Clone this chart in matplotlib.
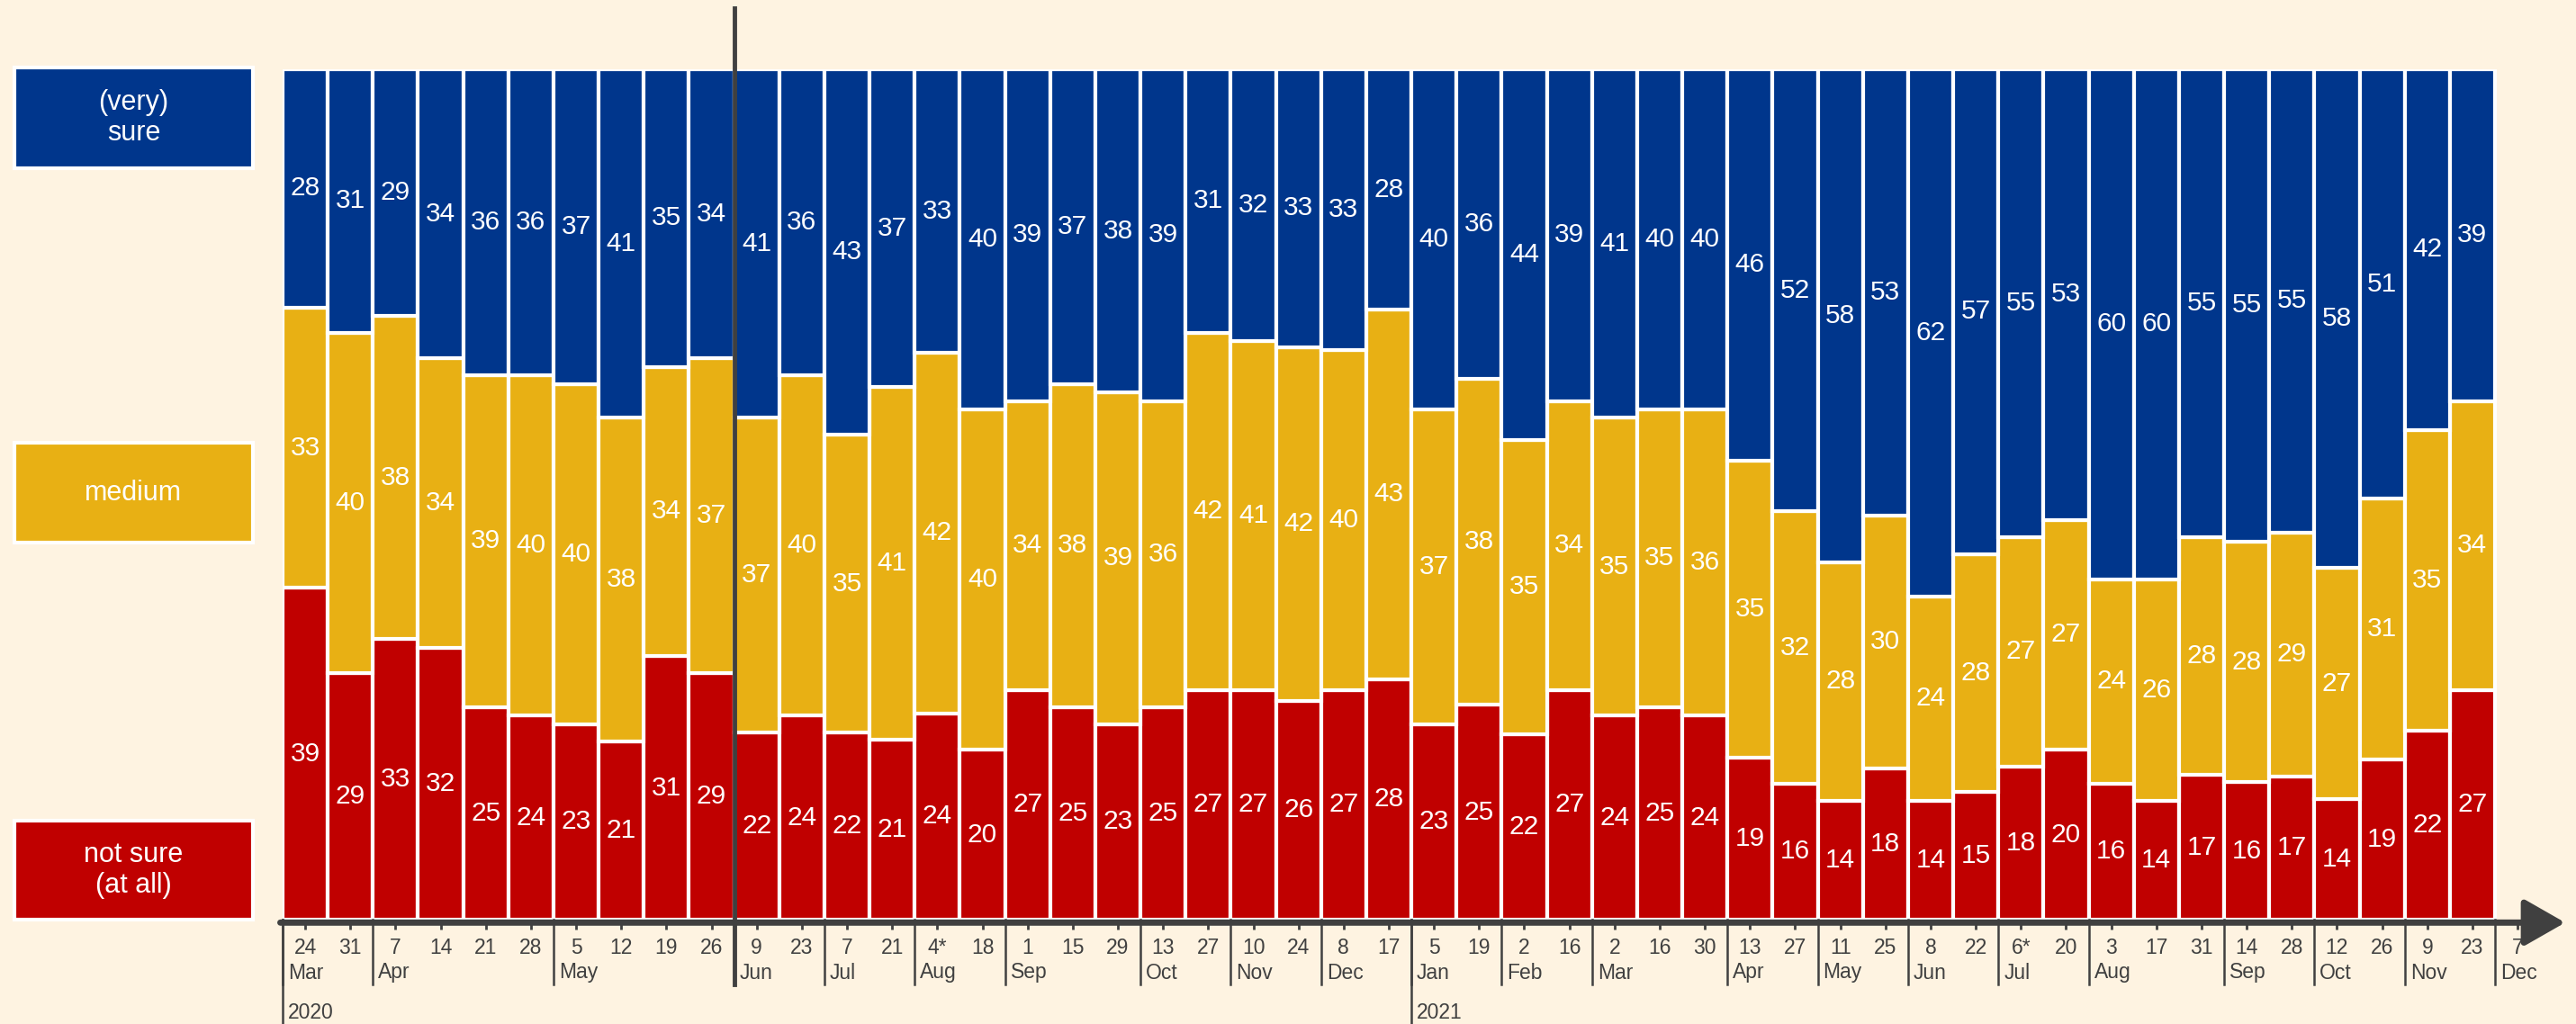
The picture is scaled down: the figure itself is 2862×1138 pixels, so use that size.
import matplotlib
matplotlib.use("Agg")
import matplotlib.pyplot as plt
import matplotlib.transforms as mtransforms
from matplotlib.patches import Rectangle

plt.rcParams['font.family'] = ['Liberation Sans', 'DejaVu Sans']

#%% data
days = ['24', '31', '7', '14', '21', '28', '5', '12', '19', '26',
        '9', '23', '7', '21', '4*', '18', '1', '15', '29', '13', '27',
        '10', '24', '8', '17',
        '5', '19', '2', '16', '2', '16', '30', '13', '27', '11', '25',
        '8', '22', '6*', '20', '3', '17', '31', '14', '28', '12', '26',
        '9', '23', '7']
months = [(0, 'Mar'), (2, 'Apr'), (6, 'May'), (10, 'Jun'), (12, 'Jul'),
          (14, 'Aug'), (16, 'Sep'), (19, 'Oct'), (21, 'Nov'), (23, 'Dec'),
          (25, 'Jan'), (27, 'Feb'), (29, 'Mar'), (32, 'Apr'), (34, 'May'),
          (36, 'Jun'), (38, 'Jul'), (40, 'Aug'), (43, 'Sep'), (45, 'Oct'),
          (47, 'Nov'), (49, 'Dec')]
years = [(0, '2020'), (25, '2021')]

not_sure = [39, 29, 33, 32, 25, 24, 23, 21, 31, 29,
            22, 24, 22, 21, 24, 20, 27, 25, 23, 25, 27, 27, 26, 27, 28,
            23, 25, 22, 27, 24, 25, 24,
            19, 16, 14, 18, 14, 15, 18, 20, 16, 14, 17, 16, 17, 14, 19, 22, 27]
medium = [33, 40, 38, 34, 39, 40, 40, 38, 34, 37,
          37, 40, 35, 41, 42, 40, 34, 38, 39, 36, 42, 41, 42, 40, 43,
          37, 38, 35, 34, 35, 35, 36,
          35, 32, 28, 30, 24, 28, 27, 27, 24, 26, 28, 28, 29, 27, 31, 35, 34]
sure = [28, 31, 29, 34, 36, 36, 37, 41, 35, 34,
        41, 36, 43, 37, 33, 40, 39, 37, 38, 39, 31, 32, 33, 33, 28,
        40, 36, 44, 39, 41, 40, 40,
        46, 52, 58, 53, 62, 57, 55, 53, 60, 60, 55, 55, 55, 58, 51, 42, 39]

legend_labels = ['(very)\nsure', 'medium', 'not sure\n(at all)']

#%% style
bg = '#FEF3E1'
c_blue = '#00368C'
c_yellow = '#E8B014'
c_red = '#C00000'
dark = '#404040'

W, H = 2862, 1138
left, right_bar, top, base = 314, 2772, 77, 1022
pitch = (right_bar - left) / len(sure)

fig = plt.figure(figsize=(W / 100, H / 100), dpi=100, facecolor=bg)
ax = fig.add_axes([left / W, 1 - base / H, (W - left) / W, (base - top) / H])
ax.set_facecolor('none')
ax.set_xlim(-0.5, -0.5 + (W - left) / pitch)
ax.set_ylim(0, 100)
for s in ax.spines.values():
    s.set_visible(False)
ax.set_yticks([])

# shares are stacked to a full bar (rounded values do not always add to 100)
x = list(range(len(sure)))
tot = [a + b + c for a, b, c in zip(not_sure, medium, sure)]
h_red = [v / t * 100 for v, t in zip(not_sure, tot)]
h_yel = [v / t * 100 for v, t in zip(medium, tot)]
h_blu = [v / t * 100 for v, t in zip(sure, tot)]
b_yel = h_red
b_blu = [a + b for a, b in zip(h_red, h_yel)]

ax.bar(x, h_red, width=1, color=c_red, edgecolor='white', linewidth=3)
ax.bar(x, h_yel, width=1, bottom=b_yel, color=c_yellow, edgecolor='white', linewidth=3)
ax.bar(x, h_blu, width=1, bottom=b_blu, color=c_blue, edgecolor='white', linewidth=3)

for i in x:
    for val, h, b in ((not_sure[i], h_red[i], 0), (medium[i], h_yel[i], b_yel[i]),
                      (sure[i], h_blu[i], b_blu[i])):
        ax.text(i, b + h / 2, str(val), ha='center', va='center',
                color='white', fontsize=21.5)

# x axis with arrow
y_ax = -0.35
tip = -0.5 + (2850 - left) / pitch
ax.annotate('', xy=(tip, y_ax), xytext=(-0.55, y_ax),
            arrowprops=dict(arrowstyle='-|>,head_length=0.7,head_width=0.4',
                            color=dark, lw=5, mutation_scale=40,
                            shrinkA=0, shrinkB=0),
            annotation_clip=False, zorder=5)

ax.set_xticks(range(len(days)))
ax.set_xticklabels([])
ax.tick_params(axis='x', length=8, width=2, color=dark, direction='out')

tr = mtransforms.blended_transform_factory(ax.transData, ax.transAxes)
ph = base - top
for i, d in enumerate(days):
    ax.text(i, -(1053 - base) / ph, d, transform=tr, ha='center', va='center',
            color=dark, fontsize=16.5)
for i, m in months:
    ax.plot([i - 0.5, i - 0.5], [0, -(1094 - base) / ph], transform=tr,
            color=dark, lw=1.8, clip_on=False)
    ax.text(i - 0.5 + 0.12, -(1081 - base) / ph, m, transform=tr, ha='left',
            va='center', color=dark, fontsize=16.5)
for i, y in years:
    ax.plot([i - 0.5, i - 0.5], [0, -(H - base) / ph], transform=tr,
            color=dark, lw=1.8, clip_on=False)
    ax.text(i - 0.5 + 0.12, -(1126 - base) / ph, y, transform=tr, ha='left',
            va='center', color=dark, fontsize=16.5)

# vertical marker line
ax.plot([9.5, 9.5], [(base - 9) / ph, -(1094 - base) / ph], transform=tr,
        color=dark, lw=3.5, clip_on=False, zorder=6)

# legend boxes
boxes = [(75, 187, c_blue), (492, 603, c_yellow), (912, 1022, c_red)]
for (y0, y1, c), lab in zip(boxes, legend_labels):
    fig.add_artist(Rectangle((16 / W, 1 - y1 / H), (281 - 16) / W, (y1 - y0) / H,
                             transform=fig.transFigure, facecolor=c,
                             edgecolor='white', linewidth=3))
    fig.text((16 + 281) / 2 / W, 1 - (y0 + y1) / 2 / H, lab, ha='center',
             va='center', color='white', fontsize=22, linespacing=1.2)

fig.savefig('out.png', dpi=100, facecolor=bg)
